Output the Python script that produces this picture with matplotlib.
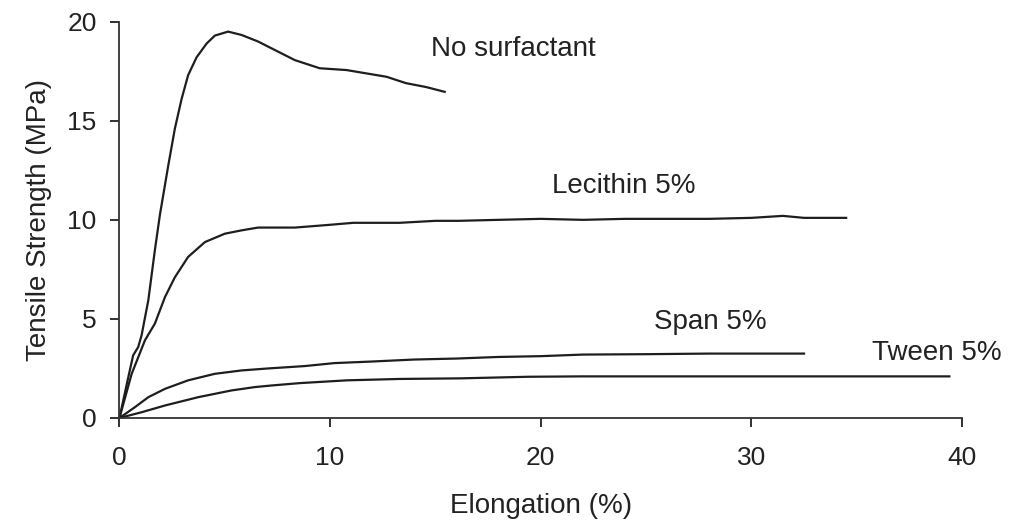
import matplotlib
matplotlib.use("Agg")
import matplotlib.pyplot as plt

plt.rcParams['font.family'] = ['Liberation Sans', 'DejaVu Sans']

# Data
none_x = [0, 0.42, 0.65, 0.89, 1.05, 1.37, 1.68, 1.92, 2.32, 2.63, 2.95, 3.26, 3.66,
          4.14, 4.53, 5.16, 5.8, 6.58, 7.38, 8.33, 9.51, 10.78, 11.73, 12.68, 13.6,
          14.57, 15.44]
none_y = [0, 2.06, 3.16, 3.58, 4.17, 5.94, 8.46, 10.25, 12.76, 14.6, 16.1, 17.3, 18.2,
          18.9, 19.3, 19.5, 19.33, 19.0, 18.57, 18.06, 17.65, 17.56, 17.39, 17.22, 16.9,
          16.7, 16.46]

lec_x = [0, 0.58, 1.21, 1.68, 2.16, 2.63, 3.26, 4.06, 5.0, 5.8, 6.58, 8.33, 10.0, 11.1,
         13.3, 15.0, 16.1, 18, 20, 22, 24, 26, 28, 30, 31.5, 32.5, 34.5]
lec_y = [0, 2.23, 3.92, 4.76, 6.1, 7.1, 8.13, 8.88, 9.3, 9.47, 9.61, 9.61, 9.75, 9.85,
         9.85, 9.95, 9.95, 10.0, 10.05, 10.0, 10.05, 10.05, 10.05, 10.1, 10.2, 10.1, 10.1]

span_x = [0, 0.74, 1.37, 2.16, 3.26, 4.53, 5.8, 7.06, 8.8, 10.2, 12, 14, 16, 18, 20,
          22, 25, 28, 32.5]
span_y = [0, 0.55, 1.05, 1.47, 1.9, 2.23, 2.4, 2.5, 2.62, 2.77, 2.85, 2.95, 3.0, 3.08,
          3.12, 3.2, 3.22, 3.25, 3.25]

tween_x = [0, 1.05, 2.16, 3.74, 5.32, 6.43, 7.22, 8.56, 10.8, 13.3, 16.2, 19.4, 22, 26,
           30, 35, 39.4]
tween_y = [0, 0.29, 0.63, 1.05, 1.39, 1.56, 1.64, 1.76, 1.9, 1.97, 2.0, 2.08, 2.1, 2.1,
           2.1, 2.1, 2.1]

labels = ["No surfactant", "Lecithin 5%", "Span 5%", "Tween 5%"]
label_pos = [(14.8, 18.6), (20.55, 11.7), (25.4, 4.83), (35.74, 3.26)]

x_ticks = [0, 10, 20, 30, 40]
y_ticks = [0, 5, 10, 15, 20]

fig = plt.figure(figsize=(10.21, 5.23), dpi=100)
ax = fig.add_axes([0.117, 0.2008, 0.8252, 0.7577])

lc = '#1e1e1e'
for xs, ys in [(none_x, none_y), (lec_x, lec_y), (span_x, span_y), (tween_x, tween_y)]:
    ax.plot(xs, ys, color=lc, lw=1.6)

for t, (px, py) in zip(labels, label_pos):
    ax.text(px, py, t, fontsize=20, color='#222222', ha='left', va='center')

ax.set_xlim(0, 40)
ax.set_ylim(0, 20)
ax.set_xticks(x_ticks)
ax.set_yticks(y_ticks)
ax.tick_params(labelsize=19, colors='#222222', length=6.5, width=1.3, direction='out')
ax.tick_params(axis='x', pad=14)
ax.tick_params(axis='y', pad=10)
ax.set_xlabel("Elongation (%)", fontsize=20, color='#222222', labelpad=16)
ax.set_ylabel("Tensile Strength (MPa)", fontsize=20, color='#222222', labelpad=11)
for s in ['top', 'right']:
    ax.spines[s].set_visible(False)
for s in ['left', 'bottom']:
    ax.spines[s].set_linewidth(1.3)
    ax.spines[s].set_color('#333333')

fig.savefig("out.png", dpi=100)
